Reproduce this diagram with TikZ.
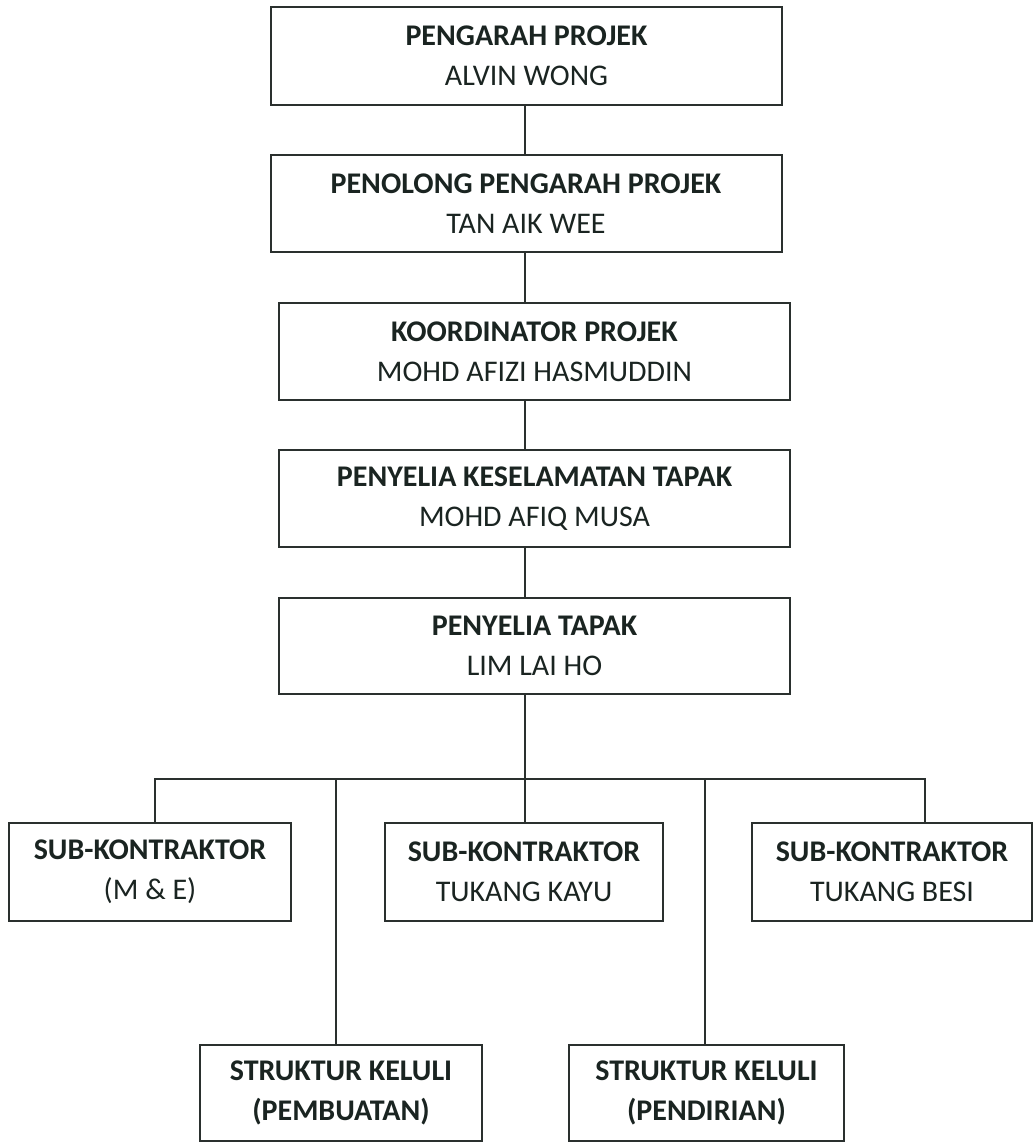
\documentclass[tikz,border=0pt]{standalone}
\usepackage{fontspec}
\setmainfont{Carlito}
\definecolor{ink}{RGB}{26,36,33}
\definecolor{rule}{RGB}{42,48,46}
\begin{document}
\begin{tikzpicture}[x=1pt,y=-1pt,
  box/.style={draw=rule, line width=2pt, rectangle, inner sep=0pt, align=center,
    text=ink, font=\fontsize{30}{40}\selectfont},
  link/.style={draw=rule, line width=2pt}]
\useasboundingbox[fill=white] (0,0) rectangle (1035,1143);

% column of managers
\node[box, minimum width=511pt, minimum height=98pt] (pp)  at (526.5,56)  {\textbf{PENGARAH PROJEK}\\ALVIN WONG};
\node[box, minimum width=511pt, minimum height=97pt] (ppp) at (526,203.5) {\textbf{PENOLONG PENGARAH PROJEK}\\TAN AIK WEE};
\node[box, minimum width=511pt, minimum height=97pt] (kp)  at (534.5,351.5) {\textbf{KOORDINATOR PROJEK}\\MOHD AFIZI HASMUDDIN};
\node[box, minimum width=511pt, minimum height=97pt] (pkt) at (534.5,498.5) {\textbf{PENYELIA KESELAMATAN TAPAK}\\MOHD AFIQ MUSA};
\node[box, minimum width=511pt, minimum height=96pt] (pt)  at (534.5,646)  {\textbf{PENYELIA TAPAK}\\LIM LAI HO};

% sub-contractors
\node[box, minimum width=282pt, minimum height=98pt] (me)   at (150,872)   {\textbf{SUB-KONTRAKTOR}\\(M \& E)};
\node[box, minimum width=278pt, minimum height=98pt] (kayu) at (524,872)   {\textbf{SUB-KONTRAKTOR}\\TUKANG KAYU};
\node[box, minimum width=280pt, minimum height=98pt] (besi) at (892,872)   {\textbf{SUB-KONTRAKTOR}\\TUKANG BESI};
\node[box, minimum width=282pt, minimum height=96pt] (pemb) at (341,1093)  {\textbf{STRUKTUR KELULI}\\\textbf{(PEMBUATAN)}};
\node[box, minimum width=275pt, minimum height=96pt] (pend) at (706.5,1093) {\textbf{STRUKTUR KELULI}\\\textbf{(PENDIRIAN)}};

% connectors
\coordinate (trunk) at (525,0);
\coordinate (d1) at (155,779);
\coordinate (d2) at (336,779);
\coordinate (d3) at (525,779);
\coordinate (d4) at (705,779);
\coordinate (d5) at (925,779);

\draw[link] (pp.south -| trunk) -- (ppp.north -| trunk);
\draw[link] (ppp.south -| trunk) -- (kp.north -| trunk);
\draw[link] (kp.south -| trunk) -- (pkt.north -| trunk);
\draw[link] (pkt.south -| trunk) -- (pt.north -| trunk);
\draw[link] (pt.south -| trunk) -- (d3) -- (d3 |- kayu.north);
\draw[link] (d1 |- me.north) -- (d1) -- (d5) -- (d5 |- besi.north);
\draw[link] (d2) -- (d2 |- pemb.north);
\draw[link] (d4) -- (d4 |- pend.north);
\end{tikzpicture}
\end{document}
